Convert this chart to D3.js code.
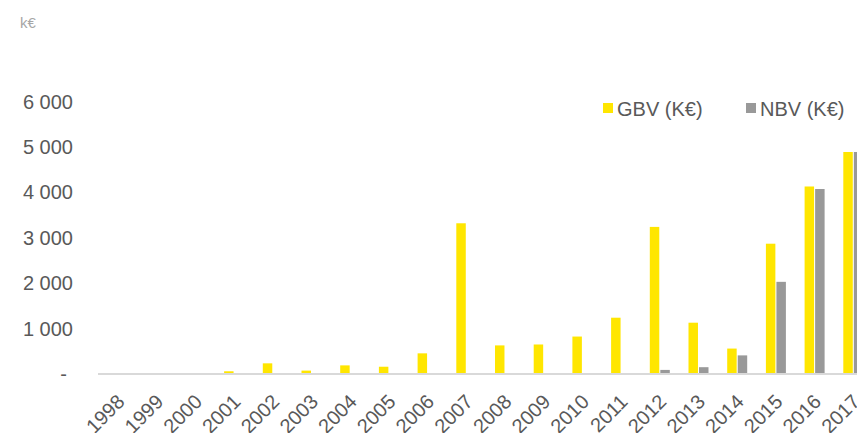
<!DOCTYPE html>
<html>
<head>
<meta charset="utf-8">
<script src="https://cdn.jsdelivr.net/npm/d3@7"></script>
<style>
    body { margin: 0; background: #fff; }
    #c { width: 857px; height: 433px; overflow: hidden; }
    text { font-family: "Liberation Sans", Arial, sans-serif; }
</style>
</head>
<body>
<div id="c"></div>
<script>
"use strict";

// values (k€)
const years = ["1998","1999","2000","2001","2002","2003","2004","2005","2006","2007",
               "2008","2009","2010","2011","2012","2013","2014","2015","2016","2017"]
const gbv = [15, 15, 0, 60, 235, 75, 190, 160, 455, 3320,
             630, 650, 825, 1240, 3240, 1130, 560, 2870, 4130, 4890]
const nbv = [0, 0, 0, 0, 0, 0, 0, 0, 0, 0,
             0, 0, 0, 20, 90, 150, 410, 2030, 4075, 4890]
const seriesNames = ["GBV (K€)", "NBV (K€)"]
const seriesColors = ["#FFE600", "#999999"]
const yTicks = [0, 1000, 2000, 3000, 4000, 5000, 6000]

let svg, xScale, xInner, yScale

window.onload = function() {
    createChart()
    drawBars()
    drawLegend()
}

function fmt(v) {
    if(v == 0) return "-"
    return d3.format(",")(v).replace(/,/g, " ")
}

function createChart() {
    svg = d3.select('#c').append('svg')
        .attr('width', 857)
        .attr('height', 433)

    xScale = d3.scaleBand()
        .domain(years)
        .range([98.5, 872.5])
        .padding(0)
    xInner = d3.scaleBand()
        .domain(seriesNames)
        .range([9.5, 29.5])
        .paddingInner(0.1)
    yScale = d3.scaleLinear()
        .domain([0, 6000])
        .range([374, 101.6])

    svg.append('text')
        .attr('x', 20).attr('y', 28)
        .style('font-size', '15px')
        .attr('fill', '#a6a6a6')
        .text('k€')

    // y labels
    svg.append('g').selectAll('text')
        .data(yTicks)
        .enter()
        .append('text')
            .attr('x', d => d == 0 ? 67 : 73)
            .attr('y', d => yScale(d))
            .attr('dy', '0.35em')
            .style('text-anchor', 'end')
            .style('font-size', '20px')
            .attr('fill', '#595959')
            .text(fmt)

    // x labels, rotated
    svg.append('g').selectAll('text')
        .data(years)
        .enter()
        .append('text')
            .attr('transform', d => 'translate(' + (xScale(d) + xScale.bandwidth()/2 + 8) + ',403) rotate(-45)')
            .style('text-anchor', 'end')
            .style('font-size', '20px')
            .attr('fill', '#595959')
            .text(d => d)
}

function drawBars() {
    let rows = years.map((y, i) => ({year: y, values: [gbv[i], nbv[i]]}))
    let g = svg.append('g')
    rows.forEach(row => {
        row.values.forEach((v, k) => {
            if(v <= 0) return
            g.append('rect')
                .attr('x', xScale(row.year) + xInner(seriesNames[k]))
                .attr('y', yScale(v))
                .attr('width', xInner.bandwidth())
                .attr('height', yScale(0) - yScale(v))
                .attr('fill', seriesColors[k])
        })
    })
    svg.append('line')
        .attr('x1', 98).attr('x2', 857)
        .attr('y1', yScale(0)).attr('y2', yScale(0))
        .attr('stroke', '#d9d9d9')
        .attr('stroke-width', 2)
}

function drawLegend() {
    const pos = [603, 746]
    seriesNames.forEach((name, k) => {
        let g = svg.append('g').attr('transform', 'translate(' + pos[k] + ',103)')
        g.append('rect')
            .attr('x', 0).attr('y', 0)
            .attr('width', 10).attr('height', 10)
            .attr('fill', seriesColors[k])
        g.append('text')
            .attr('x', 14).attr('y', 13)
            .style('font-size', '20px')
            .attr('fill', '#595959')
            .text(name)
    })
}
</script>
</body>
</html>
